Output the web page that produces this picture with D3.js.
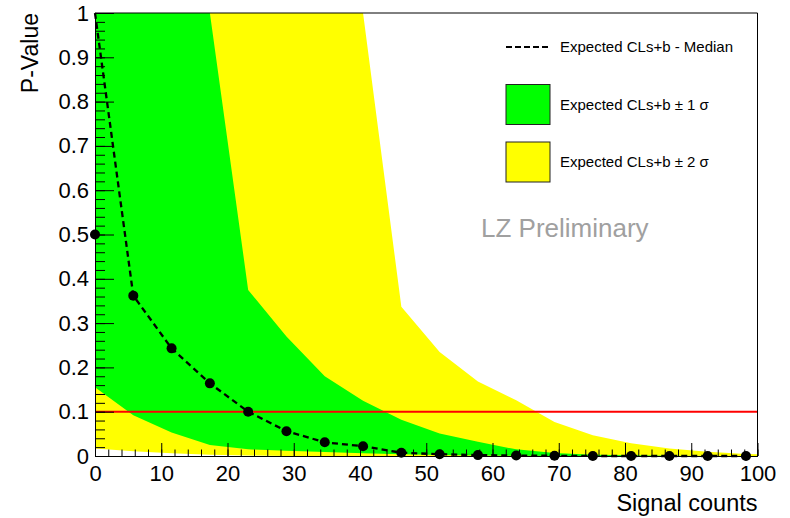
<!DOCTYPE html>
<html>
<head>
<meta charset="utf-8">
<script src="https://cdn.jsdelivr.net/npm/d3@7"></script>
<style>
  body { margin: 0; background: #fff; }
  text { font-family: "Liberation Sans", Arial, Helvetica, sans-serif; }
</style>
</head>
<body>
<svg id="chart"></svg>
<script>
// signal counts of the scan points
const signal = [0, 5.78, 11.56, 17.34, 23.12, 28.9, 34.68, 40.46, 46.24, 52.02, 57.8, 63.58, 69.36, 75.14, 80.92, 86.7, 92.48, 98.26];
// p-value markers
const pMarker = [0.5, 0.362, 0.243, 0.164, 0.100, 0.056, 0.031, 0.022, 0.0075, 0.004, 0.002, 0.001, 0.0005, 0, 0, 0, 0, 0];
// expected median (dashed)
const pMedian = [1.0, 0.362, 0.243, 0.164, 0.100, 0.056, 0.031, 0.022, 0.0075, 0.004, 0.002, 0.001, 0.0005, 0, 0, 0, 0, 0];

// bands (one extra point at the axis end)
const bandX = [0, 5.78, 11.56, 17.34, 23.12, 28.9, 34.68, 40.46, 46.24, 52.02, 57.8, 63.58, 69.36, 75.14, 80.92, 86.7, 92.48, 98.26, 100];
const sigma1Lo = [0.155, 0.092, 0.053, 0.025, 0.015, 0.012, 0.009, 0.006, 0.004, 0.002, 0.001, 0.0005, 0, 0, 0, 0, 0, 0, 0];
const sigma1Hi = [1, 1, 1, 1, 0.375, 0.27, 0.18, 0.125, 0.082, 0.051, 0.032, 0.015, 0.007, 0.003, 0.0015, 0.0005, 0, 0, 0];
const sigma2Lo = [0.017, 0.011, 0.006, 0.003, 0.001, 0, 0, 0, 0, 0, 0, 0, 0, 0, 0, 0, 0, 0, 0];
const sigma2Hi = [1, 1, 1, 1, 1, 1, 1, 1, 0.337, 0.235, 0.168, 0.126, 0.077, 0.047, 0.029, 0.017, 0.0097, 0.0045, 0.004];

const limit = 0.1;

const xMajor = d3.range(0, 101, 10);
const xMinor = d3.range(0, 101, 2);
const yMajor = d3.range(0, 11).map(i => i / 10);
const yMinor = d3.range(0, 51).map(i => i / 50);

const width = 790, height = 518;
const margin = {top: 13, bottom: 62, left: 95, right: 32.5};

const svg = d3.select("#chart")
    .attr("width", width)
    .attr("height", height);

const x = d3.scaleLinear()
    .domain([0, 100])
    .range([margin.left, width - margin.right]);

const y = d3.scaleLinear()
    .domain([0, 1])
    .range([height - margin.bottom, margin.top]);

// clip for the bands
svg.append("clipPath").attr("id", "plot")
  .append("rect")
    .attr("x", x(0)).attr("y", y(1))
    .attr("width", x(100) - x(0)).attr("height", y(0) - y(1));

const band = (lo, hi) => d3.area()
    .x((d, i) => x(bandX[i]))
    .y0((d, i) => y(lo[i]))
    .y1((d, i) => y(hi[i]));

svg.append("path")
    .datum(bandX)
    .attr("clip-path", "url(#plot)")
    .attr("fill", "#ffff00")
    .attr("d", band(sigma2Lo, sigma2Hi));

svg.append("path")
    .datum(bandX)
    .attr("clip-path", "url(#plot)")
    .attr("fill", "#00ff00")
    .attr("d", band(sigma1Lo, sigma1Hi));

// red limit line
svg.append("line")
    .attr("x1", x(0)).attr("x2", x(100))
    .attr("y1", y(limit)).attr("y2", y(limit))
    .attr("stroke", "#ff0000")
    .attr("stroke-width", 2);

// axes with inward ticks
svg.append("g")
    .attr("transform", `translate(0,${y(0)})`)
    .call(d3.axisBottom(x).tickValues(xMinor).tickSize(-6.5).tickSizeOuter(0).tickFormat(""));
svg.append("g")
    .attr("transform", `translate(0,${y(0)})`)
    .call(d3.axisBottom(x).tickValues(xMajor).tickSize(-13).tickSizeOuter(0).tickPadding(9));

svg.append("g")
    .attr("transform", `translate(${x(0)},0)`)
    .call(d3.axisLeft(y).tickValues(yMinor).tickSize(-10).tickSizeOuter(0).tickFormat(""));
svg.append("g")
    .attr("transform", `translate(${x(0)},0)`)
    .call(d3.axisLeft(y).tickValues(yMajor).tickSize(-19).tickSizeOuter(0).tickPadding(6)
      .tickFormat(d => d3.format("")(d)));

svg.selectAll(".tick line, .domain").attr("stroke", "#000").attr("stroke-width", 1);
svg.selectAll(".tick text")
    .attr("fill", "#000")
    .style("font-size", "22px");

// frame top + right
svg.append("path")
    .attr("d", `M${x(0)},${y(1)}H${x(100)}V${y(0)}`)
    .attr("fill", "none")
    .attr("stroke", "#000")
    .attr("stroke-width", 1);

// dashed median
svg.append("path")
    .datum(signal)
    .attr("fill", "none")
    .attr("stroke", "#000")
    .attr("stroke-width", 2.3)
    .attr("stroke-dasharray", "6,4")
    .attr("d", d3.line().x((d, i) => x(signal[i])).y((d, i) => y(pMedian[i])));

// markers
svg.selectAll("circle.pt")
    .data(signal)
    .enter().append("circle")
    .attr("class", "pt")
    .attr("cx", (d, i) => x(signal[i]))
    .attr("cy", (d, i) => y(pMarker[i]))
    .attr("r", 5)
    .attr("fill", "#000");

// axis titles
svg.append("text")
    .attr("x", x(100))
    .attr("y", 511)
    .attr("text-anchor", "end")
    .style("font-size", "23.5px")
    .text("Signal counts");

svg.append("text")
    .attr("transform", `translate(38,${y(1)}) rotate(-90)`)
    .attr("text-anchor", "end")
    .style("font-size", "23px")
    .text("P-Value");

// watermark
svg.append("text")
    .attr("x", 481)
    .attr("y", 237)
    .attr("fill", "#a0a0a0")
    .style("font-size", "26px")
    .text("LZ Preliminary");

// legend
const legend = svg.append("g");
legend.append("line")
    .attr("x1", 506).attr("x2", 548)
    .attr("y1", 47).attr("y2", 47)
    .attr("stroke", "#000")
    .attr("stroke-width", 2)
    .attr("stroke-dasharray", "6,3");
legend.append("text")
    .attr("x", 560).attr("y", 52)
    .style("font-size", "15px")
    .text("Expected CLs+b - Median");

const boxes = [
  {fill: "#00ff00", top: 84.5, label: "Expected CLs+b \u00b1 1 \u03c3"},
  {fill: "#ffff00", top: 142, label: "Expected CLs+b \u00b1 2 \u03c3"}
];
boxes.forEach(function(b) {
    legend.append("rect")
        .attr("x", 506).attr("y", b.top)
        .attr("width", 44).attr("height", 40)
        .attr("fill", b.fill)
        .attr("stroke", "#222")
        .attr("stroke-width", 1);
    legend.append("text")
        .attr("x", 560).attr("y", b.top + 25)
        .style("font-size", "15px")
        .text(b.label);
});
</script>
</body>
</html>
